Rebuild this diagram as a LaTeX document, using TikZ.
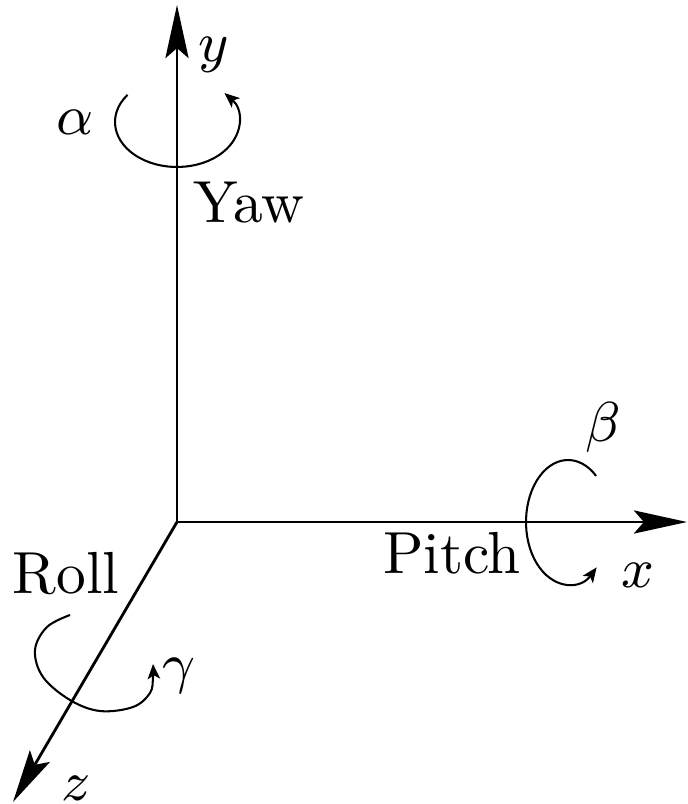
\documentclass[tikz,border=0pt]{standalone}
\usetikzlibrary{arrows.meta,calc}
\begin{document}
\begin{tikzpicture}[x=0.16pt,y=-0.16pt,
  axis/.style={line width=0.45pt,-{Stealth[length=8.5pt,width=3.7pt,inset=1.6pt]}},
  rot/.style={line width=0.33pt,-{Stealth[length=2.4pt,width=2pt,inset=0.6pt]}},
  lbl/.style={inner sep=0pt,anchor=base,font=\fontsize{9.5}{11}\selectfont}]
\useasboundingbox (0,0) rectangle (687,804);
\coordinate (O) at (177,522);
\coordinate (X) at (687,522);
\coordinate (Y) at (177,5);
\coordinate (Z) at (13,802);
\draw[axis] (O) -- (X);
\draw[axis] (O) -- (Y);
\draw[axis] (O) -- (Z);
% rotation arrows
\coordinate (cy) at (177,122);
\coordinate (cx) at (568,522);
\draw[rot] (cy) ++(217:62 and 45) arc[start angle=217,end angle=-40,x radius=62,y radius=45];
\draw[rot] (cx) ++(-48:42 and 62) arc[start angle=-48,end angle=-313,x radius=42,y radius=62];
\draw[rot] plot[smooth,tension=0.6] coordinates {(70,615) (47,627) (35,650) (43,677) (70,700) (100,711) (133,707) (150,693) (153,677) (153,664)};
% labels
\node[lbl] (ly) at (214,62) {$y$};
\node[lbl] (lx) at (638,587) {$x$};
\node[lbl] (lz) at (76,800) {$z$};
\node[lbl] (la) at (75,135) {$\alpha$};
\node[lbl] (lb) at (603,441) {$\beta$};
\node[lbl] (lg) at (179,682) {$\gamma$};
\node[lbl] (yaw) at (249,223) {Yaw};
\node[lbl] (pitch) at (452,573) {Pitch};
\node[lbl] (roll) at (66,593) {Roll};
\end{tikzpicture}
\end{document}
